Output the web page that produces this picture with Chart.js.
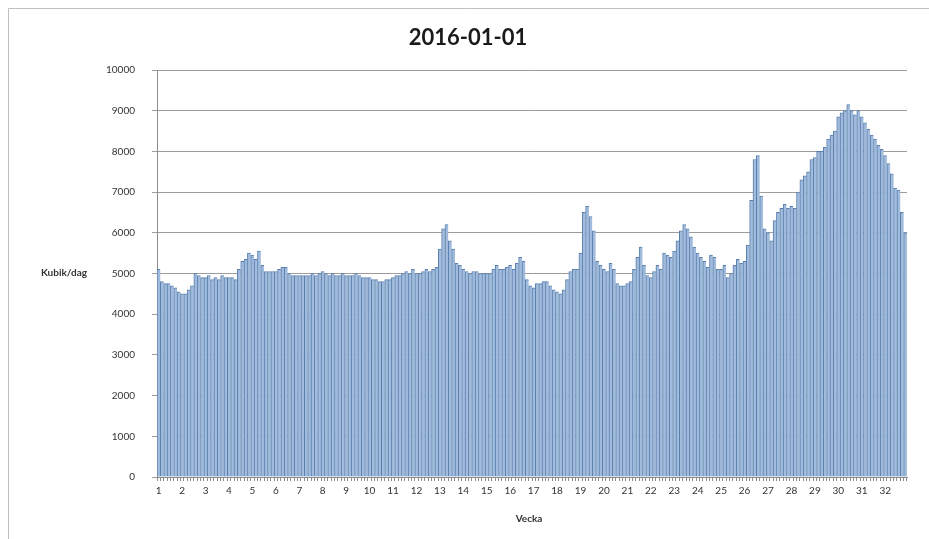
<!DOCTYPE html>
<html>
<head>
<meta charset="utf-8">
<script src="https://cdn.jsdelivr.net/npm/chart.js@4/dist/chart.umd.min.js"></script>
<style>
html,body{margin:0;padding:0;background:#fff;}
#wrap{position:relative;width:929px;height:539px;}
canvas{display:block;}
</style>
</head>
<body>
<div id="wrap"><canvas id="c" width="929" height="539"></canvas></div>
<script>
const chartTitle = '2016-01-01';
const yAxisTitle = 'Kubik/dag';
const xAxisTitle = 'Vecka';
const weekLabels = ['1','2','3','4','5','6','7','8','9','10','11','12','13','14','15','16',
  '17','18','19','20','21','22','23','24','25','26','27','28','29','30','31','32'];
const yTicks = [0,1000,2000,3000,4000,5000,6000,7000,8000,9000,10000];
// daily values (Kubik/dag), 7 per week
const values = [
  5100,4800,4750,4750,4700,4650,4550,
  4500,4500,4600,4700,5000,4950,4900,
  4900,4950,4850,4900,4850,4950,4900,
  4900,4900,4850,5100,5300,5350,5500,
  5450,5350,5550,5200,5050,5050,5050,
  5050,5100,5150,5150,5000,4950,4950,
  4950,4950,4950,4950,5000,4950,5000,
  5050,5000,4950,5000,4950,4950,5000,
  4950,4950,4950,5000,4950,4900,4900,
  4900,4850,4850,4800,4800,4850,4850,
  4900,4950,4950,5000,5050,5000,5100,
  5000,5000,5050,5100,5050,5100,5150,
  5600,6100,6200,5800,5600,5250,5200,
  5100,5050,5000,5050,5050,5000,5000,
  5000,5000,5100,5200,5100,5100,5150,
  5200,5100,5250,5400,5300,4850,4700,
  4650,4750,4750,4800,4800,4700,4600,
  4550,4500,4600,4850,5050,5100,5100,
  5500,6500,6650,6400,6050,5300,5200,
  5100,5050,5250,5100,4750,4700,4700,
  4750,4800,5100,5400,5650,5200,4950,
  4900,5050,5200,5100,5500,5450,5400,
  5550,5800,6050,6200,6100,5900,5650,
  5500,5400,5300,5150,5450,5400,5100,
  5100,5200,4900,5000,5200,5350,5250,
  5300,5700,6800,7800,7900,6900,6100,
  6000,5800,6300,6500,6600,6700,6600,
  6650,6600,7000,7300,7400,7500,7800,
  7850,8000,8000,8100,8300,8400,8500,
  8850,8950,9000,9150,9000,8900,9000,
  8850,8700,8550,8400,8300,8150,8050,
  7900,7700,7450,7100,7050,6500,6000
];
const daysPerWeek = 7;
const categories = values.map((v,i)=> i % daysPerWeek === 0 ? weekLabels[Math.floor(i/daysPerWeek)] : '');

const textPlugin = {
  id:'texts',
  beforeDraw(chart){
    const ctx = chart.ctx;
    ctx.save();
    ctx.fillStyle = '#fff';
    ctx.fillRect(0,0,chart.width,chart.height);
    ctx.strokeStyle = '#bfbfbf';
    ctx.lineWidth = 1;
    ctx.beginPath();
    ctx.moveTo(8.5, chart.height+5);
    ctx.lineTo(8.5, 8.5);
    ctx.lineTo(chart.width+5, 8.5);
    ctx.stroke();
    ctx.restore();
  },
  afterDraw(chart){
    const ctx = chart.ctx;
    const a = chart.chartArea;
    ctx.save();
    ctx.fillStyle = '#1a1a1a';
    ctx.textAlign = 'center';
    ctx.textBaseline = 'middle';
    ctx.font = 'bold 22px Lato, "Open Sans", sans-serif';
    ctx.fillText(chartTitle, 468, 38);
    ctx.font = 'bold 10px Lato, "Open Sans", sans-serif';
    ctx.fillStyle = '#333';
    ctx.fillText(yAxisTitle, 64, 273);
    ctx.fillText(xAxisTitle, (a.left+a.right)/2 - 3, 519);
    ctx.restore();
  }
};

new Chart(document.getElementById('c'), {
  type:'bar',
  data:{
    labels:categories,
    datasets:[{
      data:values,
      backgroundColor:'#a0bbdb',
      borderColor:'#5a7fae',
      borderWidth:{left:1,right:0,top:1,bottom:0},
      barPercentage:1,
      categoryPercentage:1
    }]
  },
  options:{
    responsive:false,
    animation:false,
    events:[],
    layout:{padding:{left:100,right:22,top:70,bottom:0}},
    plugins:{legend:{display:false},title:{display:false},tooltip:{enabled:false}},
    scales:{
      x:{
        grid:{display:true,drawOnChartArea:false,drawTicks:true,tickLength:4,color:'#8c8c8c'},
        border:{display:true,color:'#8c8c8c'},
        ticks:{autoSkip:false,maxRotation:0,minRotation:0,padding:4,color:'#333',
          font:{family:'Lato, "Open Sans", sans-serif',size:10}},
        afterFit(s){ s.height = 62; }
      },
      y:{
        min:0,max:10000,
        z:1,
        afterBuildTicks(s){ s.ticks = yTicks.map(v=>({value:v})); },
        grid:{color:'rgba(90,90,90,0.6)',lineWidth:1,tickLength:5,drawTicks:true},
        border:{display:true,color:'#8c8c8c'},
        ticks:{padding:17,color:'#333',font:{family:'Lato, "Open Sans", sans-serif',size:10},
          callback:(v)=>String(v)},
        afterFit(s){ s.width = 57; }
      }
    }
  },
  plugins:[textPlugin]
});
</script>
</body>
</html>
